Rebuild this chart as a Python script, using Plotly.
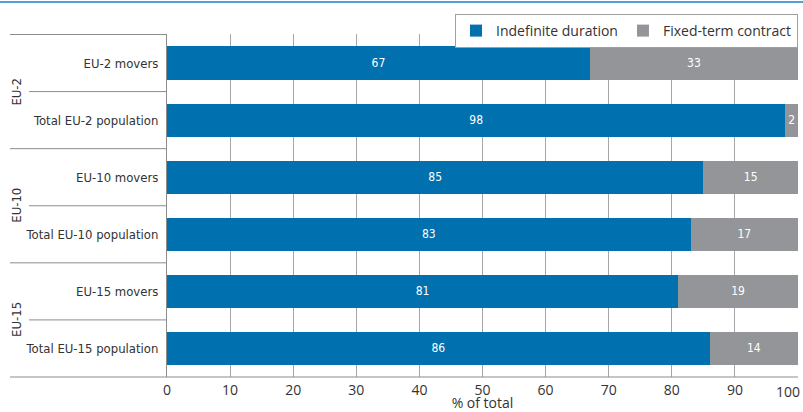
import plotly.graph_objects as go

categories = ["EU-2 movers", "Total EU-2 population",
              "EU-10 movers", "Total EU-10 population",
              "EU-15 movers", "Total EU-15 population"]
groups = ["EU-2", "EU-10", "EU-15"]
indefinite = [67, 98, 85, 83, 81, 86]
fixed_term = [33, 2, 15, 17, 19, 14]
x_ticks = [0, 10, 20, 30, 40, 50, 60, 70, 80, 90, 100]

BLUE = "#0070ae"
GREY = "#939598"
COND = "DejaVu Sans Condensed, Liberation Sans Narrow, sans-serif"
SANS = "Open Sans, Lato, sans-serif"
TXT = "#333333"

fig = go.Figure()
fig.add_trace(go.Bar(
    y=categories, x=indefinite, orientation="h", name="Indefinite duration",
    marker=dict(color=BLUE, line=dict(width=0)),
    text=[str(v) for v in indefinite], textposition="inside",
    insidetextanchor="middle", constraintext="none",
    textfont=dict(color="white", size=12, family=COND),
))
fig.add_trace(go.Bar(
    y=categories, x=fixed_term, orientation="h", name="Fixed-term contract",
    marker=dict(color=GREY, line=dict(width=0)),
    text=[str(v) for v in fixed_term], textposition="inside",
    insidetextanchor="middle", constraintext="none",
    textfont=dict(color="white", size=12, family=COND),
))

W, H = 803, 412
L, R, T, B = 167, 5, 34, 35
pw = W - L - R
ph = H - T - B

def px_to_paper_x(px):
    return (px - L) / pw

def px_to_paper_y(py):
    return (H - B - py) / ph

shapes = []
line_col = "#8c8c8c"
for i in range(len(categories)):
    yb = i - 0.5
    x0 = 10 if i % 2 == 0 else 29
    shapes.append(dict(type="line", xref="paper", yref="y",
                       x0=px_to_paper_x(x0), x1=0, y0=yb, y1=yb,
                       line=dict(color=line_col, width=1)))
shapes.append(dict(type="line", xref="paper", yref="paper",
                   x0=px_to_paper_x(10), x1=1, y0=0, y1=0,
                   line=dict(color=line_col, width=1)))
shapes.append(dict(type="line", xref="paper", yref="paper",
                   x0=px_to_paper_x(0), x1=px_to_paper_x(W), y0=px_to_paper_y(2), y1=px_to_paper_y(2),
                   line=dict(color="#1a7fc3", width=1.5)))

annotations = []
for gi, g in enumerate(groups):
    annotations.append(dict(
        text=g, xref="paper", yref="y", x=px_to_paper_x(17), y=gi * 2 + 0.5,
        textangle=-90, showarrow=False, xanchor="center", yanchor="middle",
        font=dict(size=13, family=COND, color=TXT)))
# last tick label, pulled in from the right edge (as in the reference)
annotations.append(dict(
    text=str(x_ticks[-1]), xref="x", yref="paper", x=x_ticks[-1], y=0,
    xanchor="right", yanchor="top", xshift=4, yshift=-3, showarrow=False,
    font=dict(size=14, family=SANS, color=TXT)))

fig.update_layout(
    width=W, height=H,
    margin=dict(l=L, r=R, t=T, b=B, pad=0, autoexpand=False),
    barmode="stack", bargap=0.42,
    plot_bgcolor="white", paper_bgcolor="white",
    showlegend=True,
    legend=dict(orientation="h", xref="container", yref="container",
                x=798 / W, xanchor="right", y=1 - 14 / H, yanchor="top",
                bgcolor="white", bordercolor="#a0a0a0", borderwidth=1,
                font=dict(size=14, family=SANS, color=TXT),
                itemwidth=30, traceorder="normal"),
    xaxis=dict(range=[0, 100], tickvals=x_ticks,
               ticktext=[str(v) for v in x_ticks[:-1]] + [""],
               showgrid=True, gridcolor="#a6a6a6",
               gridwidth=1, zeroline=False, showline=False, ticks="",
               automargin=False, ticklabelstandoff=3,
               tickfont=dict(size=14, family=SANS, color=TXT),
               title=dict(text="% of total", font=dict(size=14, family=SANS, color=TXT), standoff=0),
               fixedrange=True),
    yaxis=dict(type="category", categoryorder="array", categoryarray=categories,
               autorange="reversed", showgrid=False, zeroline=False,
               showline=True, linecolor="#8c8c8c", linewidth=1, ticks="",
               ticklabelstandoff=5, automargin=False, fixedrange=True,
               tickfont=dict(size=13, family=COND, color=TXT)),
    shapes=shapes, annotations=annotations,
)

fig.write_html("out.html", config={"displayModeBar": False},
               post_script="document.body.style.margin='0';document.body.style.padding='0';")
